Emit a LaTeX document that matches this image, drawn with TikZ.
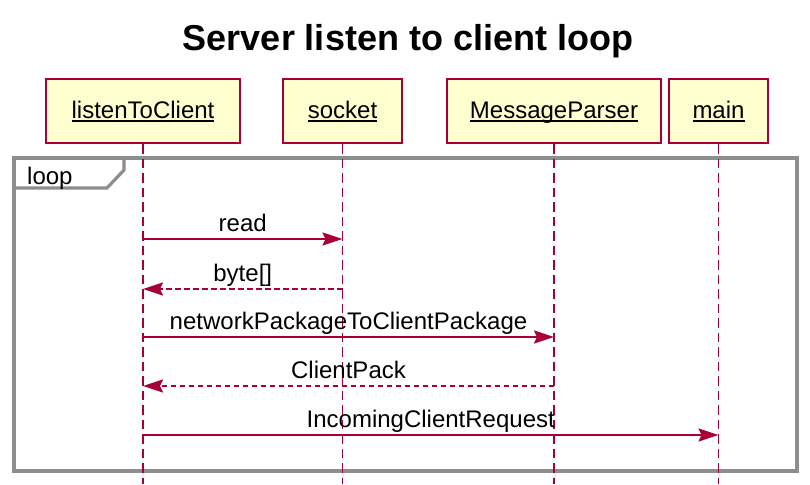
\documentclass[tikz,border=0pt]{standalone}
\usepackage{fontspec}
\setmainfont{Liberation Sans}
\usetikzlibrary{arrows.meta}
\definecolor{umlred}{HTML}{A80036}
\definecolor{umlfill}{HTML}{FEFECE}
\definecolor{framegray}{HTML}{8E8E8E}
% participant name with an underline at a fixed distance below the baseline
\newcommand\ulname[1]{\setbox0\hbox{#1}\rlap{\rule[-3.5pt]{\wd0}{1.4pt}}\box0}
\begin{document}
\begin{tikzpicture}[x=1pt,y=-1pt,
  txt/.style={font=\fontsize{24}{28}\selectfont, text=black},
  participant/.style={draw=umlred, line width=2pt, fill=umlfill, inner sep=0pt,
    minimum height=64pt, txt, text height=14pt, text depth=0pt},
  lifeline/.style={draw=umlred, line width=1.8pt, dash pattern=on 9.5pt off 5pt},
  call/.style={draw=umlred, line width=1.8pt,
    -{Stealth[length=20pt,width=13pt,inset=3pt]}},
  reply/.style={call, dash pattern=on 5.5pt off 3.5pt},
  msglabel/.style={txt, anchor=base, yshift=7.5pt, inner sep=0pt},
  groupframe/.style={draw=framegray, line width=3.2pt},
]
\useasboundingbox[fill=white] (0,0) rectangle (810,484);

% title
\node[font=\fontsize{36}{40}\selectfont\bfseries, anchor=base] (title) at (408,51) {Server listen to client loop};

% loop frame with its tab
\draw[groupframe] (14,158) rectangle (797,471);
\draw[groupframe, line join=miter] (14,188) -- (107,188) -- (124,170) -- (124,158);
\node[txt, anchor=base west, inner sep=0pt] (looplabel) at (27,184) {loop};

% participants
\node[participant, minimum width=194pt] (ltc) at (143,111) {\ulname{listenToClient}};
\node[participant, minimum width=119pt] (sock) at (342.5,111) {\ulname{socket}};
\node[participant, minimum width=214pt] (mp) at (554,111) {\ulname{MessageParser}};
\node[participant, minimum width=99pt] (main) at (718.5,111) {\ulname{main}};

% lifeline ends
\coordinate (ltcEnd) at (143,484);
\coordinate (sockEnd) at (342.5,484);
\coordinate (mpEnd) at (554,484);
\coordinate (mainEnd) at (718.5,484);
\draw[lifeline] (ltc.south) -- (ltcEnd);
\draw[lifeline] (sock.south) -- (sockEnd);
\draw[lifeline] (mp.south) -- (mpEnd);
\draw[lifeline] (main.south) -- (mainEnd);

% message anchor points on the lifelines
\coordinate (a1) at (143,239);   \coordinate (b1) at (342.5,239);
\coordinate (a2) at (143,289);   \coordinate (b2) at (342.5,289);
\coordinate (a3) at (143,337);   \coordinate (b3) at (554,337);
\coordinate (a4) at (143,386);   \coordinate (b4) at (554,386);
\coordinate (a5) at (143,435);   \coordinate (b5) at (718.5,435);

% messages
\draw[call]  (a1) -- node[msglabel] {read} (b1);
\draw[reply] (b2) -- node[msglabel] {byte[]} (a2);
\draw[call]  (a3) -- node[msglabel] {networkPackageToClientPackage} (b3);
\draw[reply] (b4) -- node[msglabel] {ClientPack} (a4);
\draw[call]  (a5) -- node[msglabel] {IncomingClientRequest} (b5);
\end{tikzpicture}
\end{document}
